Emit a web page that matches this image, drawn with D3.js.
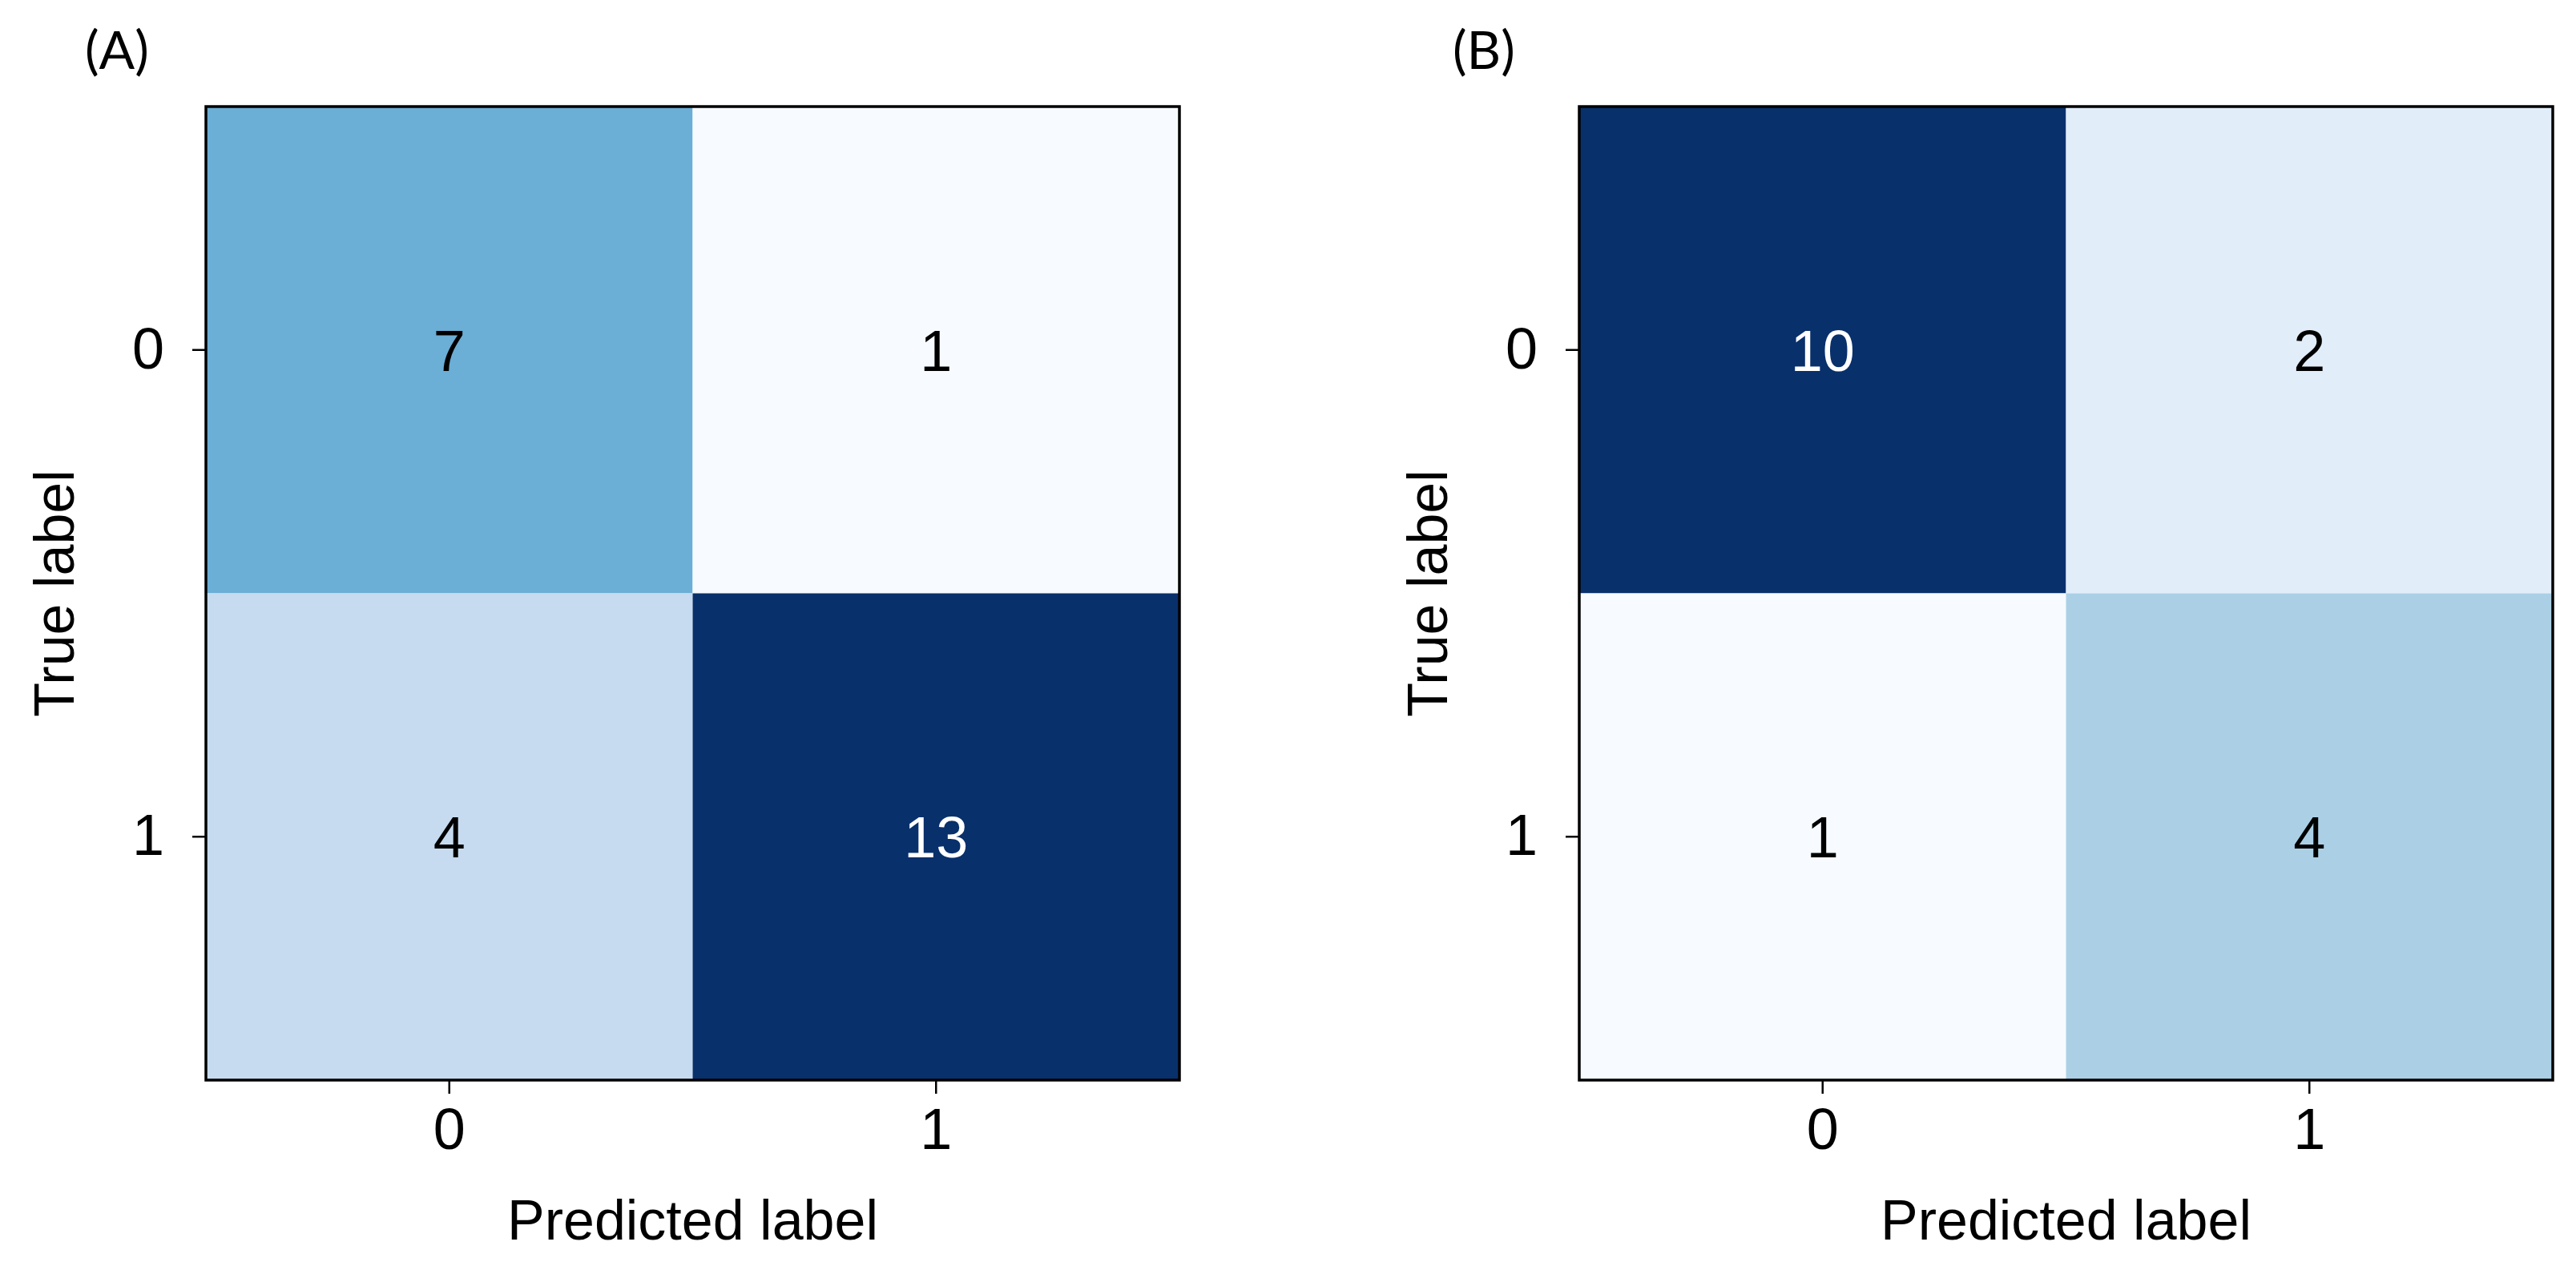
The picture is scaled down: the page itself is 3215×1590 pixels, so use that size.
<!DOCTYPE html>
<html>
<head>
<meta charset="utf-8">
<script src="https://cdn.jsdelivr.net/npm/d3@7"></script>
<style>
  html, body { margin: 0; padding: 0; background: #ffffff; }
  svg { display: block; }
</style>
</head>
<body>
<svg id="chart" width="3215" height="1590"></svg>
<script>
// ---- data ----
const classLabels = ["0", "1"];
const panelTitles = ["(A)", "(B)"];
const matrixA = [[7, 1], [4, 13]];
const matrixB = [[10, 2], [1, 4]];
const matrices = [matrixA, matrixB];
const xAxisTitle = "Predicted label";
const yAxisTitle = "True label";
// matplotlib "Blues" colormap stops
const bluesStops = ["#f7fbff", "#deebf7", "#c6dbef", "#9ecae1", "#6baed6", "#4292c6", "#2171b5", "#08519c", "#08306b"];

// ---- layout ----
const W = 3215, H = 1590;
const panelLefts = [257, 1971];
const panelTop = 133;
const size = 1215;
const sansFont = "'Liberation Sans', Arial, Helvetica, sans-serif";

const svg = d3.select("#chart");
svg.append("rect").attr("width", W).attr("height", H).attr("fill", "#ffffff");

matrices.forEach((m, pi) => {
  const g = svg.append("g").attr("transform", `translate(${panelLefts[pi]},${panelTop})`);

  const x = d3.scaleBand().domain(classLabels).range([0, size]);
  const y = d3.scaleBand().domain(classLabels).range([0, size]);

  const flat = [];
  m.forEach((row, i) => row.forEach((v, j) => flat.push({ r: classLabels[i], c: classLabels[j], v })));
  const vmin = d3.min(flat, d => d.v), vmax = d3.max(flat, d => d.v);
  const tScale = d3.scaleLinear().domain([vmin, vmax]).range([0, 1]);
  const cmap = d3.scaleLinear()
    .domain(bluesStops.map((_, k) => k / (bluesStops.length - 1)))
    .range(bluesStops)
    .interpolate(d3.interpolateRgb);
  const thresh = (vmin + vmax) / 2;

  g.selectAll("rect.cell").data(flat).join("rect")
    .attr("class", "cell")
    .attr("x", d => x(d.c))
    .attr("y", d => y(d.r))
    .attr("width", x.bandwidth())
    .attr("height", y.bandwidth())
    .attr("fill", d => cmap(tScale(d.v)));

  g.selectAll("text.val").data(flat).join("text")
    .attr("class", "val")
    .attr("x", d => x(d.c) + x.bandwidth() / 2)
    .attr("y", d => y(d.r) + y.bandwidth() / 2)
    .attr("dy", "0.36em")
    .attr("text-anchor", "middle")
    .attr("font-family", sansFont)
    .attr("font-size", 72)
    .attr("fill", d => d.v > thresh ? "#ffffff" : "#000000")
    .text(d => d.v);

  // axes
  const xAxis = g.append("g").attr("transform", `translate(0,${size})`)
    .call(d3.axisBottom(x).tickSize(17).tickPadding(18));
  const yAxis = g.append("g")
    .call(d3.axisLeft(y).tickSize(17).tickPadding(35));
  [xAxis, yAxis].forEach(ax => {
    ax.select(".domain").remove();
    ax.selectAll(".tick line").attr("stroke", "#000").attr("stroke-width", 2.5);
    ax.selectAll(".tick text")
      .attr("font-family", sansFont)
      .attr("font-size", 72)
      .attr("fill", "#000");
  });

  // frame
  g.append("rect")
    .attr("x", 0).attr("y", 0)
    .attr("width", size).attr("height", size)
    .attr("fill", "none")
    .attr("stroke", "#000")
    .attr("stroke-width", 3.5);

  // axis titles
  g.append("text")
    .attr("x", size / 2)
    .attr("y", 1547 - panelTop)
    .attr("text-anchor", "middle")
    .attr("font-family", sansFont)
    .attr("font-size", 70)
    .attr("fill", "#000")
    .text(xAxisTitle);

  g.append("text")
    .attr("transform", `translate(${92 - 257},${size / 2}) rotate(-90)`)
    .attr("text-anchor", "middle")
    .attr("font-family", sansFont)
    .attr("font-size", 70)
    .attr("fill", "#000")
    .text(yAxisTitle);

  // panel title
  g.append("text")
    .attr("x", -151 + (pi === 1 ? -7 : 0))
    .attr("y", 86 - panelTop)
    .attr("font-family", "Lato, 'Open Sans', sans-serif")
    .attr("font-size", 66)
    .attr("fill", "#000")
    .text(panelTitles[pi]);
});
</script>
</body>
</html>
